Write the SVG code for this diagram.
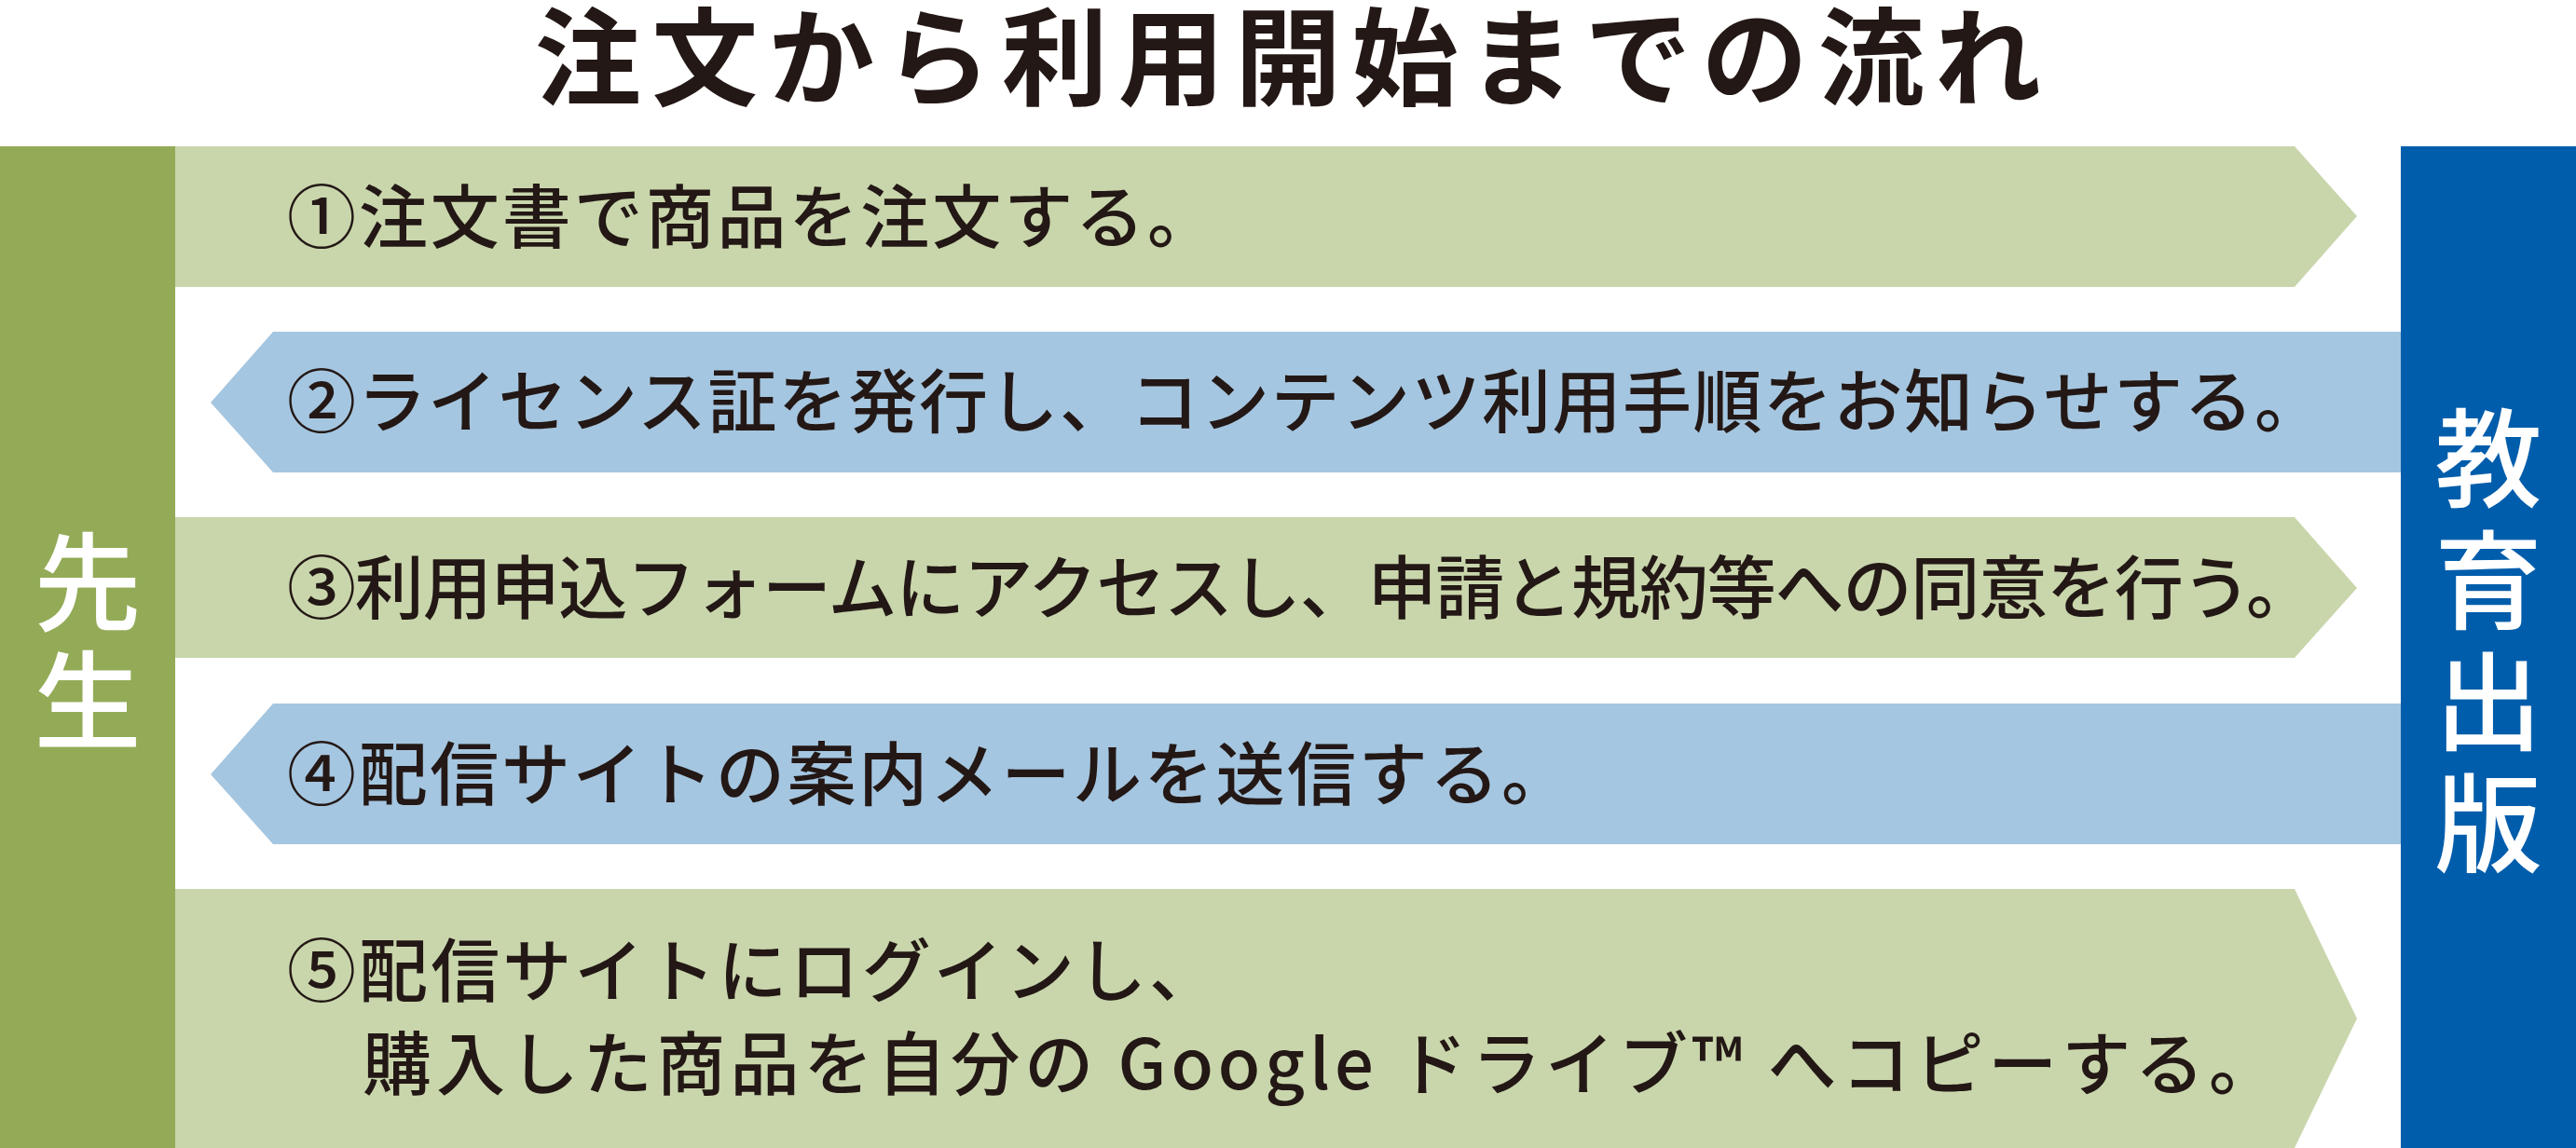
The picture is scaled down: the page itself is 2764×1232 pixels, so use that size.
<svg xmlns="http://www.w3.org/2000/svg" width="2764" height="1232" viewBox="0 0 2764 1232">
<style>
.t{font-family:"Noto Sans CJK JP","Noto Sans CJK SC",sans-serif;fill:#231815;font-size:74px;font-weight:500}
.title{font-family:"Noto Sans CJK JP","Noto Sans CJK SC",sans-serif;fill:#231815;font-size:114px;font-weight:600}
.side{font-family:"Noto Sans CJK JP","Noto Sans CJK SC",sans-serif;fill:#ffffff;font-size:115px;font-weight:500;writing-mode:vertical-rl;text-orientation:upright}
.g{fill:#C9D6AC}
.b{fill:#A5C6E0}
</style>
<rect x="0" y="0" width="2764" height="1232" fill="#ffffff"/>
<g id="title">
<text class="title" x="574" y="104" textLength="1616">注文から利用開始までの流れ</text>
</g>
<g id="sensei">
<rect x="0" y="157" width="188" height="1075" fill="#93AB57"/>
<text class="side" x="94" y="567" letter-spacing="12">先生</text>
</g>
<g id="kyoiku-shuppan">
<rect x="2576" y="157" width="188" height="1075" fill="#005DAB"/>
<text class="side" x="2670" y="434" letter-spacing="15.5">教育出版</text>
</g>
<g id="connectors">
<g id="step1">
<polygon class="g" points="188,157 2462,157 2529,232 2462,308 188,308"/>
<text class="t" x="308" y="260" textLength="997">①注文書で商品を注文する。</text>
</g>
<g id="step2">
<polygon class="b" points="293,356 2576,356 2576,507 293,507 226,432"/>
<text class="t" x="308" y="458" textLength="2185">②ライセンス証を発行し、コンテンツ利用手順をお知らせする。</text>
</g>
<g id="step3">
<polygon class="g" points="188,555 2462,555 2529,631 2462,706 188,706"/>
<text class="t" x="308" y="658" textLength="2176">③利用申込フォームにアクセスし、申請と規約等への同意を行う。</text>
</g>
<g id="step4">
<polygon class="b" points="293,755 2576,755 2576,906 293,906 226,831"/>
<text class="t" x="308" y="858" textLength="1377">④配信サイトの案内メールを送信する。</text>
</g>
<g id="step5">
<polygon class="g" points="188,954 2462,954 2529,1093 2462,1232 188,1232"/>
<text class="t" x="308" y="1069" textLength="999">⑤配信サイトにログインし、</text>
<text class="t" x="389" y="1169" textLength="2055">購入した商品を自分の Google ドライブ™ へコピーする。</text>
</g>
</g>
</svg>
